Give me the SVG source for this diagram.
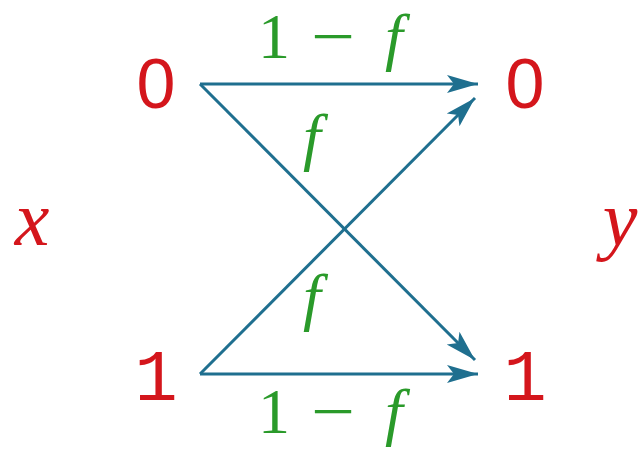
<svg xmlns="http://www.w3.org/2000/svg" width="643" height="461" viewBox="0 0 643 461">
<defs>
<marker id="ah" markerUnits="userSpaceOnUse" markerWidth="34" markerHeight="22" refX="31" refY="11" orient="auto">
<path d="M0,2 L31,11 L0,20 L7,11 Z" fill="#1f6f8f"/>
</marker>
</defs>
<rect width="643" height="461" fill="#fff"/>
<g id="connectors" stroke="#1f6f8f" stroke-width="3" fill="none" marker-end="url(#ah)">
<line x1="200" y1="84" x2="478" y2="84"/>
<line x1="200" y1="84" x2="475" y2="360"/>
<line x1="200" y1="374" x2="475" y2="98"/>
<line x1="200" y1="374" x2="478" y2="374"/>
</g>
<g fill="#d4161c" text-anchor="middle">
<g id="x0"><text font-family="'Liberation Sans', sans-serif" font-size="70" x="156" y="108">0</text></g>
<g id="x1"><text font-family="'Liberation Mono', monospace" font-size="72" x="156" y="400">1</text></g>
<g id="y0"><text font-family="'Liberation Sans', sans-serif" font-size="70" x="525" y="108">0</text></g>
<g id="y1"><text font-family="'Liberation Mono', monospace" font-size="72" x="525" y="400">1</text></g>
<g id="x"><text font-family="'Liberation Serif', serif" font-style="italic" font-size="78" x="32" y="245">x</text></g>
<g id="y"><text font-family="'Liberation Serif', serif" font-style="italic" font-size="78" x="620" y="245">y</text></g>
</g>
<g id="labels" fill="#2a9a2a" text-anchor="middle" font-family="'Liberation Serif', serif" font-size="64">
<text x="274" y="58">1</text>
<text x="333" y="58" textLength="44" lengthAdjust="spacingAndGlyphs">−</text>
<text font-style="italic" x="394" y="58">f</text>
<text font-style="italic" x="312" y="158">f</text>
<text font-style="italic" x="312" y="318">f</text>
<text x="274" y="433">1</text>
<text x="333" y="433" textLength="44" lengthAdjust="spacingAndGlyphs">−</text>
<text font-style="italic" x="394" y="433">f</text>
</g>
</svg>
